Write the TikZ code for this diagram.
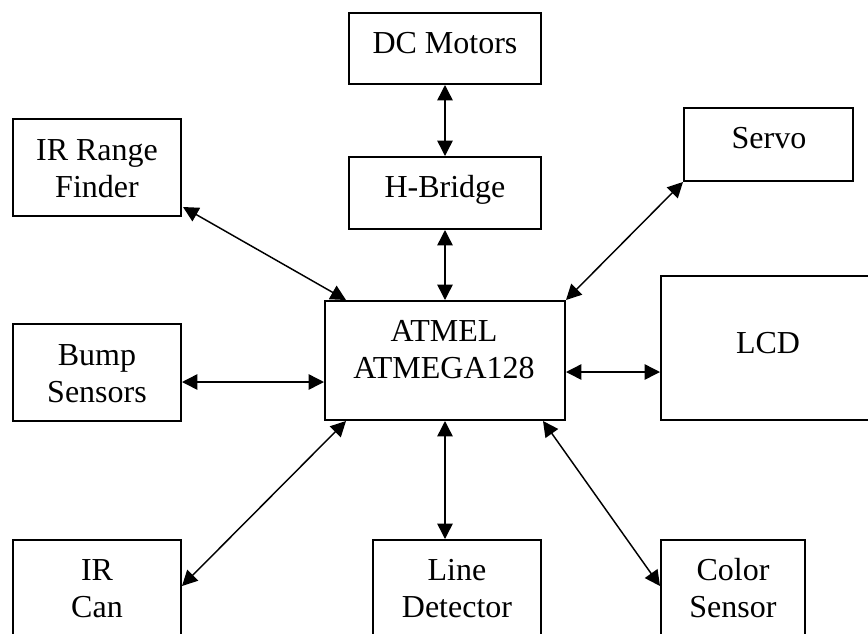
\documentclass[tikz,border=0pt]{standalone}
\usepackage{fontspec}
\setmainfont{Liberation Serif}
\usetikzlibrary{arrows.meta,fit,calc}
\tikzset{
  box/.style={draw=black, line width=1.5pt, inner sep=0pt, fill=none},
  txt/.style={anchor=base, align=center, inner sep=0pt,
    font=\fontsize{24}{27.75}\selectfont},
  conn/.style={line width=1.1pt,
    {Triangle[length=11.5pt,width=11.5pt]}-{Triangle[length=11.5pt,width=11.5pt]}}
}
\begin{document}
\begin{tikzpicture}[x=0.75pt,y=-0.75pt]
\useasboundingbox (0,0) rectangle (868,633);
% boxes
\node[box, fit={(349,13) (541,84)}] (dc) {};
\node[box, fit={(349,157) (541,229)}] (hb) {};
\node[box, fit={(13,119) (181,216)}] (irf) {};
\node[box, fit={(684,108) (853,181)}] (servo) {};
\node[box, fit={(325,301) (565,420)}] (atmel) {};
\node[box, fit={(661,276) (880,420)}] (lcd) {};
\node[box, fit={(13,324) (181,421)}] (bump) {};
\node[box, fit={(13,540) (181,660)}] (ircan) {};
\node[box, fit={(373,540) (541,660)}] (line) {};
\node[box, fit={(661,540) (805,660)}] (color) {};
% texts (multi-line nodes: base = last line's baseline)
\node[txt] (dct) at (445,53) {DC Motors};
\node[txt] (hbt) at (445,197) {H-Bridge};
\node[txt] (irft) at (97,197) {IR Range\\Finder};
\node[txt] (servot) at (769,148) {Servo};
\node[txt] (atmelt) at (444,378) {ATMEL\\ATMEGA128};
\node[txt] (lcdt) at (768,353) {LCD};
\node[txt] (bumpt) at (97,402) {Bump\\Sensors};
\node[txt] (ircant) at (97,617) {IR\\Can};
\node[txt] (linet) at (457,617) {Line\\Detector};
\node[txt] (colort) at (733,617) {Color\\Sensor};
% connector end points
\coordinate (bumpA) at ($(atmel.west)+(0,21.5)$);
\coordinate (lcdA) at ($(atmel.east)+(0,11.5)$);
\coordinate (lineA) at (atmel.south);
\coordinate (irfA) at ($(irf.south east)+(1,-10)$);
\coordinate (irfB) at ($(atmel.north west)+(22,0)$);
\coordinate (ircanA) at ($(ircan.north east)+(0,47)$);
\coordinate (ircanB) at ($(atmel.south west)+(22,0)$);
\coordinate (colorA) at ($(atmel.south east)+(-23,0)$);
\coordinate (colorB) at ($(color.north west)+(0,47)$);
% connectors
\draw[conn] (dc.south) -- (hb.north);
\draw[conn] (hb.south) -- (atmel.north);
\draw[conn] (lineA) -- (lineA |- line.north);
\draw[conn] (bumpA -| bump.east) -- (bumpA);
\draw[conn] (lcdA) -- (lcdA -| lcd.west);
\draw[conn] (irfA) -- (irfB);
\draw[conn] (servo.south west) -- (atmel.north east);
\draw[conn] (ircanA) -- (ircanB);
\draw[conn] (colorA) -- (colorB);
\end{tikzpicture}
\end{document}
